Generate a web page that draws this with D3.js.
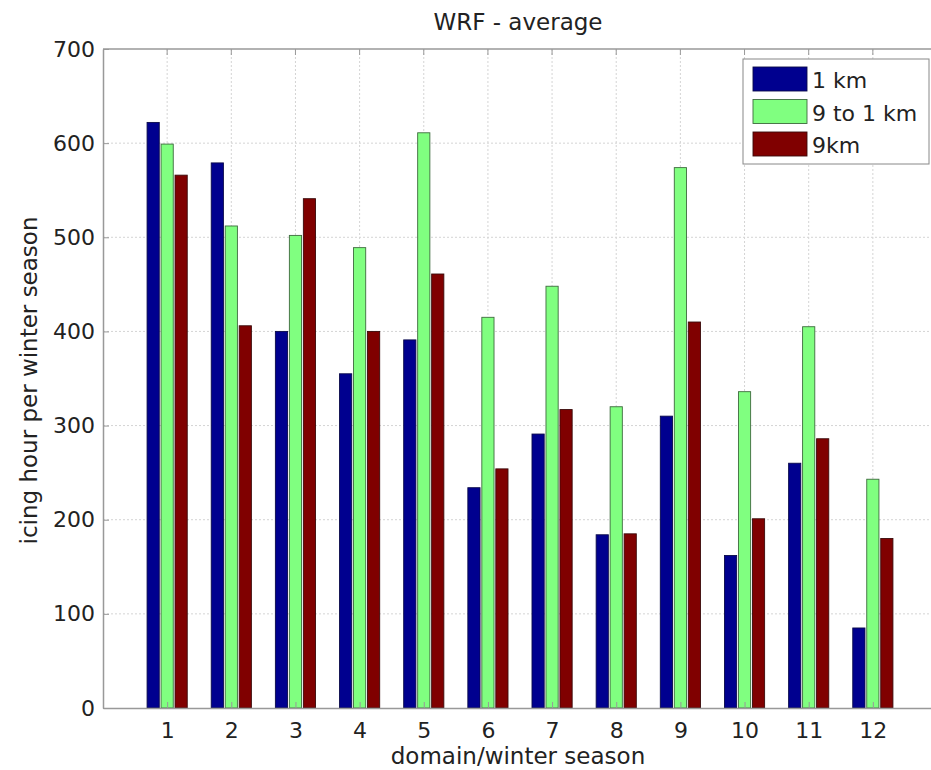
<!DOCTYPE html>
<html>
<head>
<meta charset="utf-8">
<script src="https://cdn.jsdelivr.net/npm/d3@7"></script>
<style>
  body { margin: 0; background: #fff; overflow: hidden; }
  svg { font-family: "DejaVu Sans", sans-serif; }
</style>
</head>
<body>
<div class="container"></div>
<script>
let categories = [1, 2, 3, 4, 5, 6, 7, 8, 9, 10, 11, 12]
let seriesNames = ['1 km', '9 to 1 km', '9km']
let km1 = [622, 579, 400, 355, 391, 234, 291, 184, 310, 162, 260, 85]
let km9to1 = [599, 512, 502, 489, 611, 415, 448, 320, 574, 336, 405, 243]
let km9 = [566, 406, 541, 400, 461, 254, 317, 185, 410, 201, 286, 180]
let yTicks = [0, 100, 200, 300, 400, 500, 600, 700]

let colors = ['#00008f', '#80ff80', '#800000']
let edgeColors = ['#0a0a4a', '#3d6b3d', '#3a0a0a']
let series = [km1, km9to1, km9]

let width = 931
let height = 770
let plot = { left: 103, right: 937, top: 49, bottom: 708 }
let textColor = '#222'

let svg = d3.select('.container')
    .append('svg')
    .attr('width', width)
    .attr('height', height)

let xScale = d3.scaleLinear()
    .domain([0, 13])
    .range([plot.left, plot.right])

let yScale = d3.scaleLinear()
    .domain([0, 700])
    .range([plot.bottom, plot.top])

// dotted grid
svg.append('g')
    .selectAll('line')
    .data(categories)
    .enter()
    .append('line')
    .attr('x1', d => xScale(d))
    .attr('x2', d => xScale(d))
    .attr('y1', plot.top)
    .attr('y2', plot.bottom)
    .attr('stroke', '#d4d4d4')
    .attr('stroke-dasharray', '2,2')

svg.append('g')
    .selectAll('line')
    .data(yTicks.slice(1, -1))
    .enter()
    .append('line')
    .attr('x1', plot.left)
    .attr('x2', plot.right)
    .attr('y1', d => yScale(d))
    .attr('y2', d => yScale(d))
    .attr('stroke', '#d4d4d4')
    .attr('stroke-dasharray', '2,2')

// grouped bars
let step = xScale(1) - xScale(0)
let barOffset = step * 0.218
let barWidth = step * 0.19

series.forEach((vals, s) => {
    svg.append('g')
        .selectAll('rect')
        .data(vals)
        .enter()
        .append('rect')
        .attr('x', (d, i) => xScale(categories[i]) + (s - 1) * barOffset - barWidth / 2)
        .attr('y', d => yScale(d))
        .attr('width', barWidth)
        .attr('height', d => yScale(0) - yScale(d))
        .attr('fill', colors[s])
        .attr('stroke', edgeColors[s])
        .attr('stroke-width', 0.9)
})

// axes
let xAxis = d3.axisBottom(xScale)
    .tickValues(categories)
    .tickSizeInner(-6)
    .tickSizeOuter(0)
    .tickPadding(14)

let yAxis = d3.axisLeft(yScale)
    .tickValues(yTicks)
    .tickSizeInner(-6)
    .tickSizeOuter(0)
    .tickPadding(8)

let gx = svg.append('g')
    .attr('transform', `translate(0,${plot.bottom})`)
    .call(xAxis)
gx.select('.domain').attr('stroke', '#999').attr('stroke-width', 1.5)
gx.selectAll('.tick line').attr('stroke', '#999')
gx.selectAll('text').attr('font-size', 22).attr('fill', textColor).attr('font-family', 'DejaVu Sans, sans-serif')

let gy = svg.append('g')
    .attr('transform', `translate(${plot.left},0)`)
    .call(yAxis)
gy.select('.domain').attr('stroke', '#999').attr('stroke-width', 1.5)
gy.selectAll('.tick line').attr('stroke', '#999')
gy.selectAll('text').attr('font-size', 22).attr('fill', textColor).attr('font-family', 'DejaVu Sans, sans-serif')

// box top + top ticks
svg.append('line')
    .attr('x1', plot.left)
    .attr('x2', plot.right)
    .attr('y1', plot.top)
    .attr('y2', plot.top)
    .attr('stroke', '#999')
    .attr('stroke-width', 1.5)

svg.append('g')
    .selectAll('line')
    .data(categories)
    .enter()
    .append('line')
    .attr('x1', d => xScale(d))
    .attr('x2', d => xScale(d))
    .attr('y1', plot.top)
    .attr('y2', plot.top + 6)
    .attr('stroke', '#999')

// titles
svg.append('text')
    .attr('x', 518)
    .attr('y', 30)
    .attr('text-anchor', 'middle')
    .attr('font-size', 23)
    .attr('fill', textColor)
    .text('WRF - average')

svg.append('text')
    .attr('x', 518)
    .attr('y', 764)
    .attr('text-anchor', 'middle')
    .attr('font-size', 23)
    .attr('fill', textColor)
    .text('domain/winter season')

svg.append('text')
    .attr('transform', `translate(37,${(plot.top + plot.bottom) / 2 + 2}) rotate(-90)`)
    .attr('text-anchor', 'middle')
    .attr('font-size', 23)
    .attr('fill', textColor)
    .text('icing hour per winter season')

// legend
let legend = svg.append('g')
legend.append('rect')
    .attr('x', 743)
    .attr('y', 59)
    .attr('width', 186)
    .attr('height', 105)
    .attr('fill', '#fff')
    .attr('stroke', '#888')

seriesNames.forEach((name, i) => {
    legend.append('rect')
        .attr('x', 753)
        .attr('y', 67 + i * 32.5)
        .attr('width', 54)
        .attr('height', 24)
        .attr('fill', colors[i])
        .attr('stroke', edgeColors[i])
        .attr('stroke-width', 0.9)
    legend.append('text')
        .attr('x', 812)
        .attr('y', 88 + i * 32.5)
        .attr('font-size', 22)
        .attr('fill', textColor)
        .text(name)
})
</script>
</body>
</html>
